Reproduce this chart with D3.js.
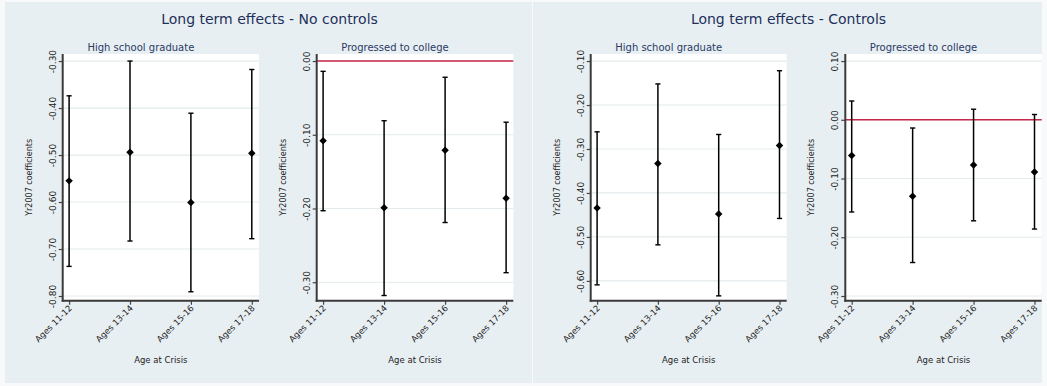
<!DOCTYPE html>
<html>
<head>
<meta charset="utf-8">
<script src="https://cdnjs.cloudflare.com/ajax/libs/d3/7.8.5/d3.min.js"></script>
<style>
  body { margin: 0; background: #f7f9fa; }
  svg { display: block; font-family: "DejaVu Sans", Verdana, sans-serif; }
</style>
</head>
<body>
<svg id="chart" width="1047" height="386"></svg>
<script>
// categories on the x axis
var ageGroups = ["Ages 11-12", "Ages 13-14", "Ages 15-16", "Ages 17-18"]

// No controls - high school graduate
var hsNoCtrlCoef = [-0.555, -0.494, -0.601, -0.496]
var hsNoCtrlLow  = [-0.737, -0.683, -0.791, -0.678]
var hsNoCtrlHigh = [-0.374, -0.300, -0.411, -0.318]

// No controls - progressed to college
var colNoCtrlCoef = [-0.108, -0.199, -0.121, -0.186]
var colNoCtrlLow  = [-0.203, -0.318, -0.219, -0.287]
var colNoCtrlHigh = [-0.014, -0.081, -0.022, -0.083]

// Controls - high school graduate
var hsCtrlCoef = [-0.434, -0.333, -0.448, -0.292]
var hsCtrlLow  = [-0.609, -0.518, -0.634, -0.458]
var hsCtrlHigh = [-0.261, -0.152, -0.267, -0.122]

// Controls - progressed to college
var colCtrlCoef = [-0.061, -0.130, -0.077, -0.089]
var colCtrlLow  = [-0.157, -0.243, -0.172, -0.186]
var colCtrlHigh = [ 0.032, -0.014,  0.018,  0.009]

// y tick values for each panel
var hsNoCtrlTicks  = [-0.30, -0.40, -0.50, -0.60, -0.70, -0.80]
var colNoCtrlTicks = [0.00, -0.10, -0.20, -0.30]
var hsCtrlTicks    = [-0.10, -0.20, -0.30, -0.40, -0.50, -0.60]
var colCtrlTicks   = [0.10, 0.00, -0.10, -0.20, -0.30]

var groupTitles = ["Long term effects - No controls", "Long term effects - Controls"]

var svg = d3.select("#chart")

var plotTop = 54, plotBottom = 300.7

//background boxes of the two combined graphs
var groups = [
    {title: groupTitles[0], x0: 5, x1: 532},
    {title: groupTitles[1], x0: 533, x1: 1042}
]
groups.forEach(function(g) {
    svg.append("rect")
        .attr("x", g.x0).attr("y", 2)
        .attr("width", g.x1 - g.x0).attr("height", 381)
        .attr("fill", "#e8eff2")
    svg.append("text")
        .attr("x", (g.x0 + g.x1) / 2 + 1)
        .attr("y", 24)
        .attr("text-anchor", "middle")
        .attr("font-size", 14)
        .attr("fill", "#1e2f5c")
        .text(g.title)
})

var panels = [
    {title: "High school graduate", left: 62.7, right: 259, domain: [-0.81, -0.285],
     ticks: hsNoCtrlTicks, coef: hsNoCtrlCoef, low: hsNoCtrlLow, high: hsNoCtrlHigh, zero: false},
    {title: "Progressed to college", left: 316.7, right: 513.3, domain: [-0.325, 0.0095],
     ticks: colNoCtrlTicks, coef: colNoCtrlCoef, low: colNoCtrlLow, high: colNoCtrlHigh, zero: true},
    {title: "High school graduate", left: 590.7, right: 786.7, domain: [-0.645, -0.084],
     ticks: hsCtrlTicks, coef: hsCtrlCoef, low: hsCtrlLow, high: hsCtrlHigh, zero: false},
    {title: "Progressed to college", left: 845.3, right: 1041.7, domain: [-0.308, 0.112],
     ticks: colCtrlTicks, coef: colCtrlCoef, low: colCtrlLow, high: colCtrlHigh, zero: true}
]

var diamond = d3.symbol().type(d3.symbolSquare).size(28)

panels.forEach(function(p) {

    var x = d3.scalePoint().domain(ageGroups).range([p.left + 6.4, p.right - 7.2])
    var y = d3.scaleLinear().domain(p.domain).range([plotBottom, plotTop])

    var g = svg.append("g")

    // white plot region
    g.append("rect")
        .attr("x", p.left).attr("y", plotTop)
        .attr("width", p.right - p.left).attr("height", plotBottom - plotTop)
        .attr("fill", "#ffffff")

    // grid lines
    g.selectAll(".grid")
        .data(p.ticks)
        .enter().append("line")
        .attr("class", "grid")
        .attr("x1", p.left).attr("x2", p.right)
        .attr("y1", function(d) { return y(d) })
        .attr("y2", function(d) { return y(d) })
        .attr("stroke", "#e3ebee")
        .attr("stroke-width", 1.2)

    // reference line at zero
    if (p.zero) {
        g.append("line")
            .attr("x1", p.left).attr("x2", p.right)
            .attr("y1", y(0)).attr("y2", y(0))
            .attr("stroke", "#c8264b")
            .attr("stroke-width", 1.6)
    }

    // y axis
    var yAxis = d3.axisLeft(y)
        .tickValues(p.ticks)
        .tickSize(4)
        .tickFormat(d3.format(".2f"))
    var ya = g.append("g")
        .attr("transform", "translate(" + p.left + ",0)")
        .call(yAxis)
    ya.select(".domain").remove()
    ya.selectAll(".tick line").attr("stroke", "#444").attr("stroke-width", 1.2)
    ya.selectAll(".tick text")
        .attr("x", null).attr("dy", null)
        .attr("text-anchor", "middle")
        .attr("transform", "translate(-7,0) rotate(-90)")
        .attr("font-size", 9)
        .attr("font-family", "DejaVu Sans")
        .attr("fill", "#222")
        .text(function(d) { return d3.format(".2f")(d).replace("−", "-") })

    // x axis
    var xAxis = d3.axisBottom(x).tickSize(4)
    var xa = g.append("g")
        .attr("transform", "translate(0," + plotBottom + ")")
        .call(xAxis)
    xa.select(".domain").remove()
    xa.selectAll(".tick line").attr("stroke", "#444").attr("stroke-width", 1.2)
    xa.selectAll(".tick text")
        .attr("y", null).attr("dy", null)
        .attr("text-anchor", "end")
        .attr("transform", "translate(3,8) rotate(-45)")
        .attr("font-size", 8.5)
        .attr("font-family", "DejaVu Sans")
        .attr("fill", "#222")

    // axis lines
    g.append("line")
        .attr("x1", p.left).attr("x2", p.left)
        .attr("y1", plotTop).attr("y2", plotBottom + 1)
        .attr("stroke", "#3a3a3a").attr("stroke-width", 2)
    g.append("line")
        .attr("x1", p.left - 1).attr("x2", p.right)
        .attr("y1", plotBottom).attr("y2", plotBottom)
        .attr("stroke", "#3a3a3a").attr("stroke-width", 2)

    // panel title
    g.append("text")
        .attr("x", (p.left + p.right) / 2 - 20)
        .attr("y", 51)
        .attr("text-anchor", "middle")
        .attr("font-size", 10)
        .attr("fill", "#2a3a66")
        .text(p.title)

    // y axis title
    g.append("text")
        .attr("transform", "translate(" + (p.left - 31) + "," + ((plotTop + plotBottom) / 2) + ") rotate(-90)")
        .attr("text-anchor", "middle")
        .attr("font-size", 8)
        .attr("fill", "#222")
        .text("Yr2007 coefficients")

    // x axis title
    g.append("text")
        .attr("x", (p.left + p.right) / 2)
        .attr("y", 363)
        .attr("text-anchor", "middle")
        .attr("font-size", 8.5)
        .attr("fill", "#222")
        .text("Age at Crisis")

    // error bars
    var rows = ageGroups.map(function(a, i) {
        return {age: a, coef: p.coef[i], low: p.low[i], high: p.high[i]}
    })

    var bars = g.selectAll(".bar").data(rows).enter().append("g").attr("class", "bar")

    bars.append("line")
        .attr("x1", function(d) { return x(d.age) })
        .attr("x2", function(d) { return x(d.age) })
        .attr("y1", function(d) { return y(d.low) })
        .attr("y2", function(d) { return y(d.high) })
        .attr("stroke", "#000").attr("stroke-width", 1.5)

    bars.selectAll(".cap")
        .data(function(d) { return [{age: d.age, v: d.low}, {age: d.age, v: d.high}] })
        .enter().append("line")
        .attr("x1", function(d) { return x(d.age) - 2.6 })
        .attr("x2", function(d) { return x(d.age) + 2.6 })
        .attr("y1", function(d) { return y(d.v) })
        .attr("y2", function(d) { return y(d.v) })
        .attr("stroke", "#000").attr("stroke-width", 1.4)

    bars.append("path")
        .attr("d", diamond)
        .attr("transform", function(d) { return "translate(" + x(d.age) + "," + y(d.coef) + ") rotate(45)" })
        .attr("fill", "#000")
})
</script>
</body>
</html>
